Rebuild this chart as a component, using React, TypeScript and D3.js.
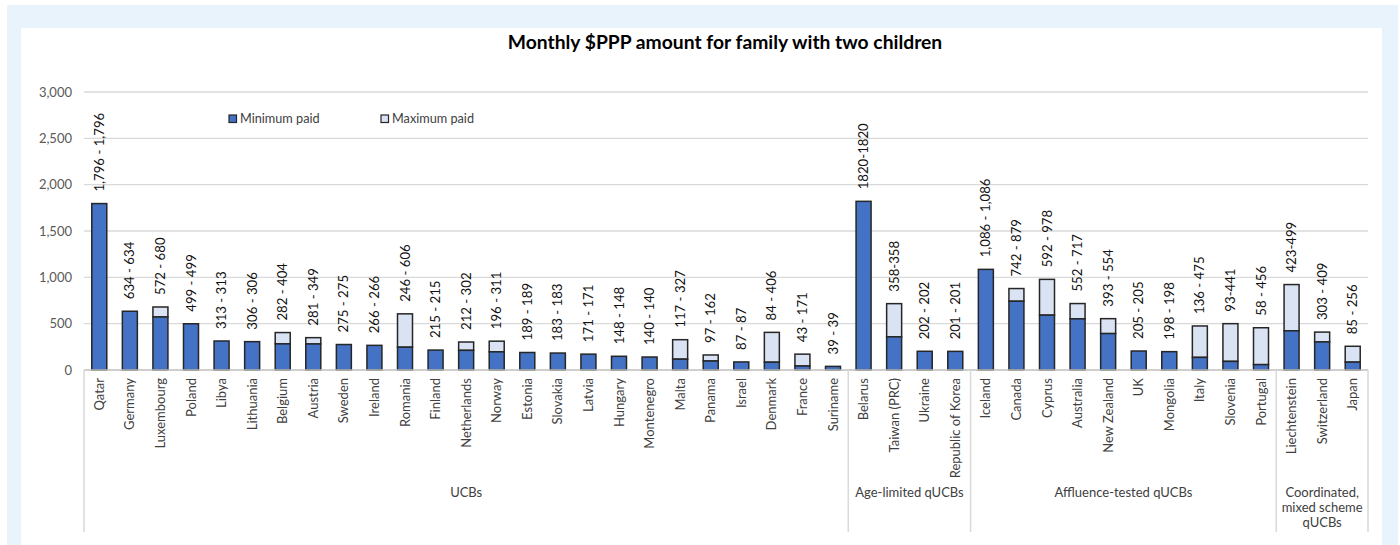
import React from 'react';
import * as d3 from 'd3';

// values
const countries = [
  'Qatar', 'Germany', 'Luxembourg', 'Poland', 'Libya', 'Lithuania', 'Belgium', 'Austria', 'Sweden',
  'Ireland', 'Romania', 'Finland', 'Netherlands', 'Norway', 'Estonia', 'Slovakia', 'Latvia', 'Hungary',
  'Montenegro', 'Malta', 'Panama', 'Israel', 'Denmark', 'France', 'Suriname',
  'Belarus', 'Taiwan (PRC)', 'Ukraine', 'Republic of Korea',
  'Iceland', 'Canada', 'Cyprus', 'Australia', 'New Zealand', 'UK', 'Mongolia', 'Italy', 'Slovenia', 'Portugal',
  'Liechtenstein', 'Switzerland', 'Japan'
];

const minPaid = [
  1796, 634, 572, 499, 313, 306, 282, 281, 275,
  266, 246, 215, 212, 196, 189, 183, 171, 148,
  140, 117, 97, 87, 84, 43, 39,
  1820, 358, 202, 201,
  1086, 742, 592, 552, 393, 205, 198, 136, 93, 58,
  423, 303, 85
];

// top of the stacked bar (as drawn)
const maxPaid = [
  1796, 634, 680, 499, 313, 306, 404, 349, 275,
  266, 606, 215, 302, 311, 189, 183, 171, 148,
  140, 327, 162, 87, 406, 171, 39,
  1820, 716, 202, 201,
  1086, 879, 978, 717, 554, 205, 198, 475, 500, 456,
  922, 409, 256
];

const valueLabels = [
  '1,796 - 1,796', '634 - 634', '572 - 680', '499 - 499', '313 - 313', '306 - 306', '282 - 404', '281 - 349', '275 - 275',
  '266 - 266', '246 - 606', '215 - 215', '212 - 302', '196 - 311', '189 - 189', '183 - 183', '171 - 171', '148 - 148',
  '140 - 140', '117 - 327', '97 - 162', '87 - 87', '84 - 406', '43 - 171', '39 - 39',
  '1820-1820', '358-358', '202 - 202', '201 - 201',
  '1,086 - 1,086', '742 - 879', '592 - 978', '552 - 717', '393 - 554', '205 - 205', '198 - 198', '136 - 475', '93-441', '58 - 456',
  '423-499', '303 - 409', '85 - 256'
];

const groupNames = ['UCBs', 'Age-limited qUCBs', 'Affluence-tested qUCBs', 'Coordinated,\nmixed scheme\nqUCBs'];
const groupSizes = [25, 4, 10, 3];

const yTicks = [0, 500, 1000, 1500, 2000, 2500, 3000];

const FONT = 'Lato, "Open Sans", sans-serif';
const BLUE = '#4472C4';
const PALE = '#DAE3F3';
const EDGE = '#262626';
const GRID = '#d9d9d9';

export default function App() {
  const width = 1400;
  const height = 545;
  const plotLeft = 84;
  const plotRight = 1368;
  const baseY = 370;
  const topY = 92;

  const x = d3.scaleBand<string>().domain(countries).range([plotLeft, plotRight]).padding(0);
  const y = d3.scaleLinear().domain([0, 3000]).range([baseY, topY]);
  const fmt = d3.format(',');
  const barW = 15;

  // group boundaries
  const bounds: number[] = [0];
  groupSizes.forEach((s, i) => bounds.push(bounds[i] + s));
  const band = x.bandwidth();

  return (
    <svg width={width} height={height} style={{ position: 'absolute', left: 0, top: 0 }}>
      <rect x={0} y={0} width={width} height={height} fill="#ffffff" />
      <rect x={7} y={5} width={1391} height={height} fill="#e9f3fc" />
      <rect x={21} y={28} width={1361} height={height} fill="#ffffff" />

      <text x={725} y={49} textAnchor="middle" fontFamily={FONT} fontWeight="bold" fontSize={19.3} fill="#000">
        Monthly $PPP amount for family with two children
      </text>

      {/* gridlines + y labels */}
      {yTicks.map(t => (
        <g key={t}>
          {t > 0 && <line x1={plotLeft} x2={plotRight} y1={y(t)} y2={y(t)} stroke={GRID} strokeWidth={1.3} />}
          <text x={72} y={y(t)} dy="0.35em" textAnchor="end" fontFamily={FONT} fontSize={13} fill="#595959">
            {fmt(t)}
          </text>
        </g>
      ))}

      {/* legend */}
      <rect x={229} y={115} width={7.5} height={7.5} fill={BLUE} stroke={EDGE} strokeWidth={1.2} />
      <text x={240} y={119} dy="0.35em" fontFamily={FONT} fontSize={12.7} fill="#404040">Minimum paid</text>
      <rect x={381} y={115} width={7.5} height={7.5} fill={PALE} stroke={EDGE} strokeWidth={1.2} />
      <text x={392} y={119} dy="0.35em" fontFamily={FONT} fontSize={12.7} fill="#404040">Maximum paid</text>

      {/* bars */}
      {countries.map((c, i) => {
        const cx = (x(c) as number) + band / 2;
        const lo = minPaid[i];
        const hi = maxPaid[i];
        return (
          <g key={c}>
            {hi > lo && (
              <rect x={cx - barW / 2} y={y(hi)} width={barW} height={y(lo) - y(hi)} fill={PALE} stroke={EDGE} strokeWidth={1.5} />
            )}
            <rect x={cx - barW / 2} y={y(lo)} width={barW} height={baseY - y(lo)} fill={BLUE} stroke={EDGE} strokeWidth={1.5} />
            <text
              transform={`translate(${cx},${y(hi) - 12}) rotate(-90)`}
              dy="0.35em"
              fontFamily={FONT}
              fontSize={13.2}
              fill="#111"
            >
              {valueLabels[i]}
            </text>
            <text
              transform={`translate(${cx},${baseY + 8}) rotate(-90)`}
              dy="0.35em"
              textAnchor="end"
              fontFamily={FONT}
              fontSize={13}
              fill="#404040"
            >
              {c}
            </text>
          </g>
        );
      })}

      {/* category axis */}
      <line x1={plotLeft} x2={plotRight} y1={baseY} y2={baseY} stroke="#bfbfbf" strokeWidth={1.3} />
      {bounds.map((b, i) => {
        const bx = plotLeft + b * band;
        return <line key={i} x1={bx} x2={bx} y1={baseY} y2={532} stroke={GRID} strokeWidth={1.5} />;
      })}
      {groupNames.map((g, i) => {
        const gx = plotLeft + ((bounds[i] + bounds[i + 1]) / 2) * band;
        return (
          <text key={g} x={gx} y={492} textAnchor="middle" fontFamily={FONT} fontSize={13} fill="#404040">
            {g.split('\n').map((line, k) => (
              <tspan key={k} x={gx} dy={k === 0 ? '0.35em' : 15}>{line}</tspan>
            ))}
          </text>
        );
      })}
    </svg>
  );
}
